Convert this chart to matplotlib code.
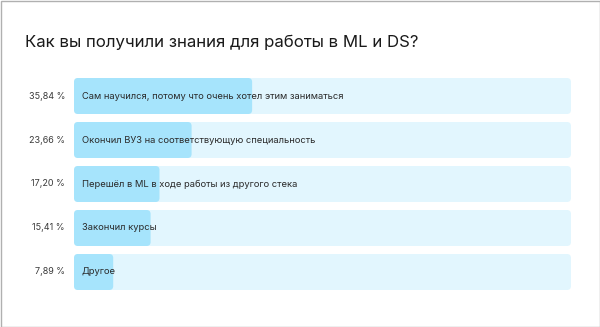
import matplotlib
matplotlib.use('Agg')
import matplotlib.pyplot as plt
from matplotlib.patches import FancyBboxPatch, Rectangle

plt.rcParams['font.family'] = ['Inter', 'DejaVu Sans']

# Data
title = 'Как вы получили знания для работы в ML и DS?'
answers = ['Сам научился, потому что очень хотел этим заниматься',
           'Окончил ВУЗ на соответствующую специальность',
           'Перешёл в ML в ходе работы из другого стека',
           'Закончил курсы',
           'Другое']
shares = [35.84, 23.66, 17.20, 15.41, 7.89]
share_labels = ['35,84 %', '23,66 %', '17,20 %', '15,41 %', '7,89 %']

W, H, dpi = 600, 327, 100
fig = plt.figure(figsize=(W / dpi, H / dpi), dpi=dpi)

# thin gray frame around the card
fig.patches.append(Rectangle((0.5 / W, 0.5 / H), 1 - 1.0 / W, 1 - 1.0 / H,
                             transform=fig.transFigure, fill=False,
                             ec='#b0b0b0', lw=1.0))

fig.text(25 / W, 1 - 42 / H, title, fontsize=12.1, color='#1a1a1a',
         va='center', ha='left')

# axes in pixel layout: track from x=74 to 571, rows from y=78 to 290
left, right, top, bottom = 74, 571, 78, 290
ax = fig.add_axes([left / W, 1 - bottom / H, (right - left) / W, (bottom - top) / H])
n = len(answers)
bar_h = 36 / 44
ax.set_xlim(0, 100)
ax.set_ylim(n - 1 + bar_h / 2, -bar_h / 2)
ax.axis('off')

px_x = (right - left) / 100.0
px_y = (bottom - top) / (n - 1 + bar_h)
radius = 4 / px_x
aspect = px_x / px_y


def rbar(x0, y, w, color):
    p = FancyBboxPatch((x0, y - bar_h / 2), w, bar_h,
                       boxstyle='round,pad=0,rounding_size=%f' % radius,
                       mutation_aspect=aspect, fc=color, ec='none')
    ax.add_patch(p)


for i, (a, v, lab) in enumerate(zip(answers, shares, share_labels)):
    rbar(0, i, 100, '#e2f6fe')
    rbar(0, i, v, '#a6e4fc')
    ax.text(8 / px_x, i, a, fontsize=6.75, color='#2a2a2a', va='center', ha='left')
    ax.text(-9 / px_x, i, lab, fontsize=6.5, color='#3a3a3a', va='center',
            ha='right', clip_on=False)

fig.savefig('out.png', dpi=dpi)
